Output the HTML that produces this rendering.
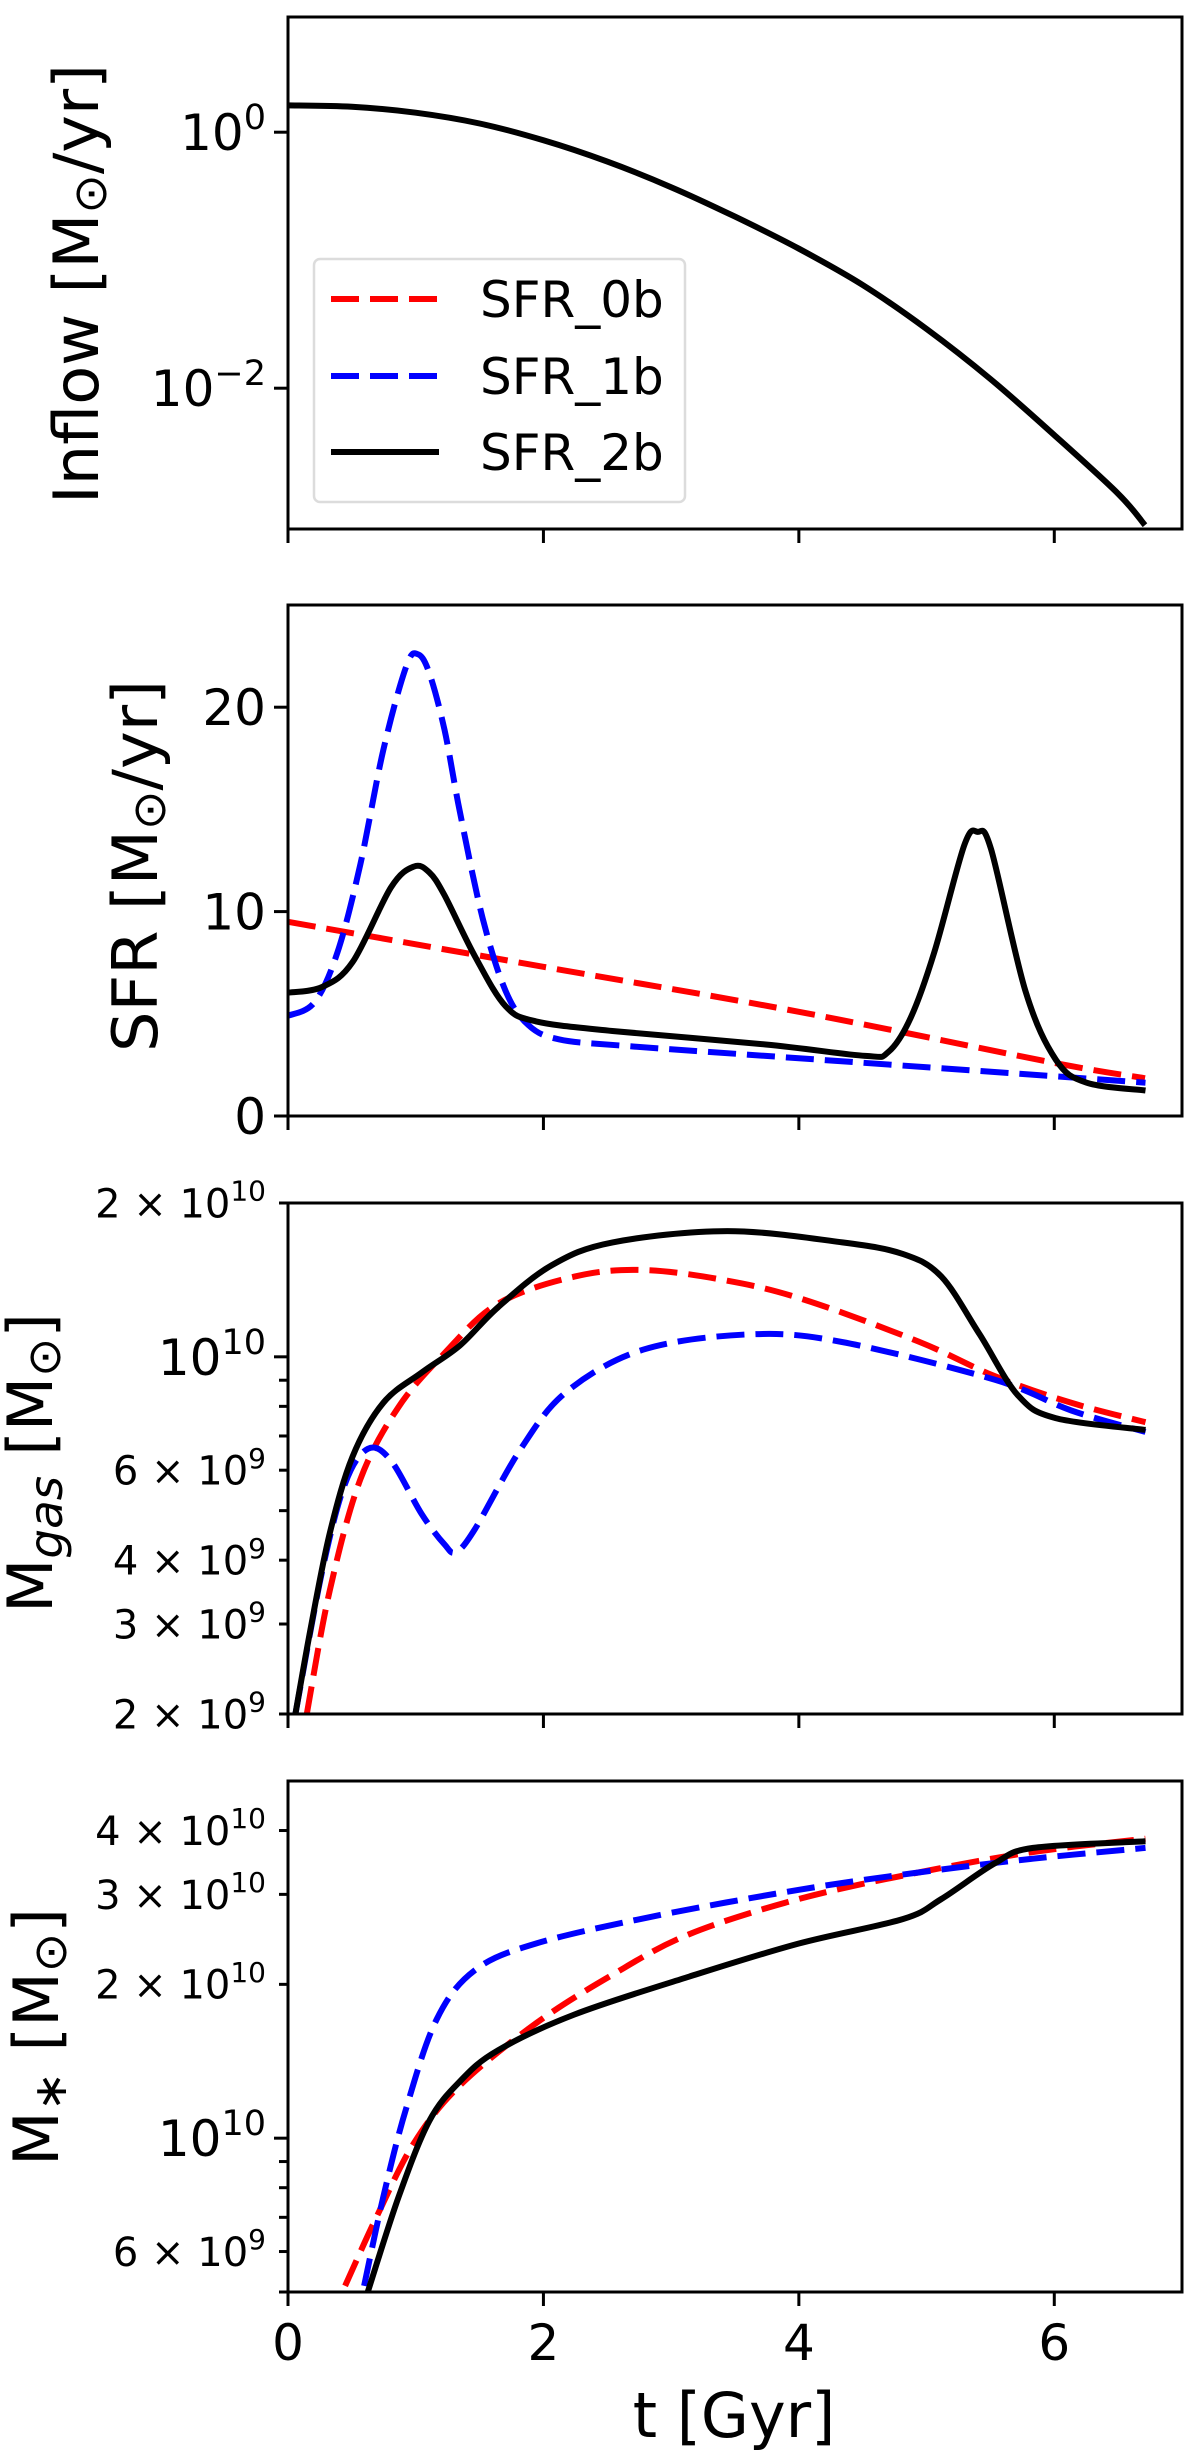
<!DOCTYPE html>
<html><head><meta charset="utf-8">
<style>
html,body{margin:0;padding:0;background:#fff;}
svg{display:block;}
text{font-family:"DejaVu Sans","Liberation Sans",sans-serif;fill:#000;}
</style></head>
<body>
<svg id="fig" width="1200" height="2450" viewBox="0 0 1200 2450" xmlns="http://www.w3.org/2000/svg"></svg>
<script>
// ---------- data ----------
const xTickValues = [0, 2, 4, 6];
const xTickLabels = ["0", "2", "4", "6"];

// Panel 1: inflow
const inflowT = [0, 0.5, 1, 1.5, 2, 2.5, 3, 3.5, 4, 4.5, 5, 5.5, 6, 6.5, 6.71];
const inflowVal = [1.62, 1.58, 1.42, 1.17, 0.865, 0.589, 0.372, 0.219, 0.123, 0.064, 0.029, 0.0118, 0.0043, 0.0015, 0.00085];

// Panel 2: SFR
const sfr2T = [0, 0.267, 0.506, 0.806, 0.985, 1.105, 1.225, 1.464, 1.704, 1.943, 2.54, 3.74, 4.52, 4.70, 4.876, 5.06, 5.295, 5.40, 5.505, 5.774, 6.013, 6.253, 6.714];
const sfr2Val = [6.03, 6.31, 7.53, 11.18, 12.2, 11.93, 10.8, 7.81, 5.37, 4.63, 4.16, 3.5, 2.94, 3.13, 4.81, 8.0, 13.24, 13.9, 13.05, 6.12, 2.75, 1.63, 1.25];
const sfr1T = [0, 0.207, 0.387, 0.566, 0.746, 0.926, 1.015, 1.105, 1.225, 1.345, 1.524, 1.704, 1.883, 2.12, 2.6, 3.74, 6.714];
const sfr1Val = [4.9, 5.56, 8.0, 12.3, 17.9, 22.0, 22.6, 21.7, 18.9, 14.9, 9.68, 6.12, 4.44, 3.75, 3.45, 2.94, 1.63];
const sfr0T = [0, 2, 4, 6, 6.71];
const sfr0Val = [9.5, 7.3, 5.1, 2.6, 1.85];

// Panel 3: log10 gas mass
const gas2T = [0.058, 0.177, 0.327, 0.506, 0.746, 1.045, 1.345, 1.644, 2.063, 2.542, 3.44, 4.34, 4.816, 5.116, 5.415, 5.714, 6.01, 6.714];
const gas2Log = [9.301, 9.468, 9.655, 9.805, 9.91, 9.969, 10.022, 10.097, 10.179, 10.224, 10.246, 10.224, 10.201, 10.157, 10.044, 9.925, 9.88, 9.857];
const gas0T = [0.147, 0.327, 0.566, 0.866, 1.225, 1.644, 2.243, 2.78, 3.44, 4.04, 4.936, 5.535, 6.133, 6.714];
const gas0Log = [9.301, 9.543, 9.76, 9.902, 10.007, 10.104, 10.157, 10.17, 10.149, 10.112, 10.03, 9.962, 9.91, 9.872];
const gas1T = [0.058, 0.267, 0.447, 0.626, 0.806, 1.045, 1.225, 1.315, 1.464, 1.823, 2.183, 2.78, 3.62, 4.337, 5.535, 6.133, 6.714];
const gas1Log = [9.301, 9.58, 9.752, 9.82, 9.797, 9.693, 9.633, 9.618, 9.663, 9.82, 9.932, 10.014, 10.044, 10.029, 9.955, 9.895, 9.853];

// Panel 4: log10 stellar mass
const star2T = [0.626, 0.866, 1.105, 1.345, 1.644, 2.243, 3.14, 4.0, 4.816, 5.116, 5.535, 5.834, 6.714];
const star2Log = [9.70, 9.885, 10.033, 10.111, 10.172, 10.242, 10.316, 10.381, 10.429, 10.468, 10.538, 10.568, 10.581];
const star0T = [0.447, 0.686, 0.985, 1.345, 1.943, 2.542, 3.14, 4.0, 4.936, 5.834, 6.714];
const star0Log = [9.711, 9.842, 9.99, 10.103, 10.225, 10.32, 10.399, 10.468, 10.52, 10.56, 10.586];
const star1T = [0.596, 0.746, 0.926, 1.165, 1.464, 1.943, 2.84, 4.0, 4.936, 5.834, 6.714];
const star1Log = [9.711, 9.885, 10.059, 10.233, 10.329, 10.381, 10.433, 10.486, 10.52, 10.547, 10.568];

const legendLabels = ["SFR_0b", "SFR_1b", "SFR_2b"];

// ---------- helpers ----------
const NS = "http://www.w3.org/2000/svg";
const svg = document.getElementById("fig");
const XL = 288, XR = 1182, XMIN = 0, XMAX = 7;
function xPix(t){ return XL + (t - XMIN) / (XMAX - XMIN) * (XR - XL); }
function mk(tag, attrs, parent){
  const e = document.createElementNS(NS, tag);
  for (const k in attrs) e.setAttribute(k, attrs[k]);
  (parent || svg).appendChild(e);
  return e;
}
function linScale(top, bot, vmin, vmax){ return v => bot - (v - vmin) / (vmax - vmin) * (bot - top); }
function logScale(top, bot, lmin, lmax){ return v => bot - (Math.log10(v) - lmin) / (lmax - lmin) * (bot - top); }
function logLScale(top, bot, lmin, lmax){ return l => bot - (l - lmin) / (lmax - lmin) * (bot - top); }

function drawSeries(g, ts, vs, yf, color, dashed, name, top, bot){
  const pts = [];
  for (let i = 0; i < ts.length; i++){
    let y = yf(vs[i]);
    y = Math.max(top - 2, Math.min(bot + 2, y));
    pts.push([xPix(ts[i]), y]);
  }
  let d = "M" + pts[0][0].toFixed(1) + "," + pts[0][1].toFixed(1);
  for (let i = 0; i < pts.length - 1; i++){
    const p0 = pts[Math.max(0, i - 1)], p1 = pts[i], p2 = pts[i + 1], p3 = pts[Math.min(pts.length - 1, i + 2)];
    const c1x = p1[0] + (p2[0] - p0[0]) / 6, c1y = p1[1] + (p2[1] - p0[1]) / 6;
    const c2x = p2[0] - (p3[0] - p1[0]) / 6, c2y = p2[1] - (p3[1] - p1[1]) / 6;
    d += "C" + c1x.toFixed(1) + "," + c1y.toFixed(1) + " " + c2x.toFixed(1) + "," + c2y.toFixed(1) + " " + p2[0].toFixed(1) + "," + p2[1].toFixed(1);
  }
  const p = mk("path", {d: d, fill: "none", stroke: color, "stroke-width": 6, "stroke-linejoin": "round"}, g);
  if (dashed) p.setAttribute("stroke-dasharray", "28 11");
  
  
  return p;
}

function frame(g, top, bot, name){
  const r = mk("rect", {x: XL, y: top, width: XR - XL, height: bot - top, fill: "none", stroke: "#000", "stroke-width": 3}, g);
  
  
  xTickValues.forEach(v => {
    const l = mk("line", {x1: xPix(v), x2: xPix(v), y1: bot, y2: bot + 14, stroke: "#000", "stroke-width": 3}, g);
    
    
  });
}
function yTick(g, y, major){
  const l = mk("line", {x1: XL - (major ? 14 : 9), x2: XL, y1: y, y2: y, stroke: "#000", "stroke-width": 3}, g);
  
  
}
function yLabel(g, y, base, sup, size){
  const t = mk("text", {x: XL - 22, y: y + size * 0.36, "text-anchor": "end", "font-size": size}, g);
  
  
  t.appendChild(document.createTextNode(base));
  if (sup){
    const s = mk("tspan", {"font-size": size * 0.7, dy: -size * 0.42}, t);
    s.textContent = sup;
  }
}
function axisTitle(g, xb, yc, len, parts, name){
  const t = mk("text", {x: 0, y: 0, "text-anchor": "middle", "font-size": 62, transform: "translate(" + xb + "," + yc + ") rotate(-90)", textLength: len, lengthAdjust: "spacingAndGlyphs"}, g);
  
  
  parts.forEach(p => {
    const s = mk("tspan", p.attrs || {}, t);
    s.textContent = p.text;
  });
}

// ---------- Panel 1: Inflow ----------
(function(){
  const top = 17, bot = 529;
  const g = mk("g", {});  
  const yf = logScale(top, bot, -3.10, 0.90);
  drawSeries(g, inflowT, inflowVal, yf, "#000", false, "inflow-line", top, bot);
  frame(g, top, bot, "inflow-axes");
  yTick(g, yf(1), true); yLabel(g, yf(1), "10", "0", 50);
  yTick(g, yf(0.01), true); yLabel(g, yf(0.01), "10", "\u22122", 50);
  axisTitle(g, 98, 284, 440, [{text: "Inflow [M"}, {text: "\u2299", attrs: {"font-size": 46, dy: 8}}, {text: "/yr]", attrs: {dy: -8}}], "inflow-y-axis-title");
  // legend
  const lg = mk("g", {}, g);  
  const box = mk("rect", {x: 314, y: 259, width: 371, height: 243, rx: 6, fill: "#fff", "fill-opacity": 0.8, stroke: "#dcdcdc", "stroke-width": 2.5}, lg);
   
  const cols = ["#ff0000", "#0000ff", "#000"], ys = [299, 376, 452];
  for (let i = 0; i < 3; i++){
    const e = mk("g", {}, lg);  
    const ln = mk("line", {x1: 331, x2: 439, y1: ys[i], y2: ys[i], stroke: cols[i], "stroke-width": 6}, e);
    if (i < 2) ln.setAttribute("stroke-dasharray", "28 11");
     
    const tx = mk("text", {x: 480, y: ys[i] + 18, "font-size": 50}, e);
    tx.textContent = legendLabels[i];
     
  }
})();

// ---------- Panel 2: SFR ----------
(function(){
  const top = 605, bot = 1116;
  const g = mk("g", {});  
  const yf = linScale(top, bot, 0, 25);
  drawSeries(g, sfr0T, sfr0Val, yf, "#ff0000", true, "sfr-0b-line", top, bot);
  drawSeries(g, sfr1T, sfr1Val, yf, "#0000ff", true, "sfr-1b-line", top, bot);
  drawSeries(g, sfr2T, sfr2Val, yf, "#000", false, "sfr-2b-line", top, bot);
  frame(g, top, bot, "sfr-axes");
  [0, 10, 20].forEach(v => { yTick(g, yf(v), true); yLabel(g, yf(v), String(v), null, 50); });
  axisTitle(g, 157, 866, 372, [{text: "SFR [M"}, {text: "\u2299", attrs: {"font-size": 46, dy: 8}}, {text: "/yr]", attrs: {dy: -8}}], "sfr-y-axis-title");
})();

// ---------- Panel 3: Mgas ----------
(function(){
  const top = 1203, bot = 1714;
  const g = mk("g", {});  
  const lmin = Math.log10(2e9), lmax = Math.log10(2e10);
  const yl = logLScale(top, bot, lmin, lmax), yf = logScale(top, bot, lmin, lmax);
  drawSeries(g, gas0T, gas0Log, yl, "#ff0000", true, "gas-0b-line", top, bot);
  drawSeries(g, gas1T, gas1Log, yl, "#0000ff", true, "gas-1b-line", top, bot);
  drawSeries(g, gas2T, gas2Log, yl, "#000", false, "gas-2b-line", top, bot);
  frame(g, top, bot, "gas-mass-axes");
  [2e9, 3e9, 4e9, 5e9, 6e9, 7e9, 8e9, 9e9, 2e10].forEach(v => yTick(g, yf(v), false));
  yTick(g, yf(1e10), true);
  yLabel(g, yf(1e10), "10", "10", 50);
  yLabel(g, yf(2e10), "2 \u00d7 10", "10", 40);
  yLabel(g, yf(6e9), "6 \u00d7 10", "9", 40);
  yLabel(g, yf(4e9), "4 \u00d7 10", "9", 40);
  yLabel(g, yf(3e9), "3 \u00d7 10", "9", 40);
  yLabel(g, yf(2e9), "2 \u00d7 10", "9", 40);
  axisTitle(g, 52, 1463, 300, [{text: "M"}, {text: "gas", attrs: {"font-size": 46, "font-style": "italic", dy: 10}}, {text: " [M", attrs: {dy: -10}}, {text: "\u2299", attrs: {"font-size": 46, dy: 8}}, {text: "]", attrs: {dy: -8}}], "gas-mass-y-axis-title");
})();

// ---------- Panel 4: Mstar ----------
(function(){
  const top = 1781, bot = 2292;
  const g = mk("g", {});  
  const lmin = Math.log10(5e9), lmax = Math.log10(5e10);
  const yl = logLScale(top, bot, lmin, lmax), yf = logScale(top, bot, lmin, lmax);
  drawSeries(g, star0T, star0Log, yl, "#ff0000", true, "stellar-0b-line", top, bot);
  drawSeries(g, star1T, star1Log, yl, "#0000ff", true, "stellar-1b-line", top, bot);
  drawSeries(g, star2T, star2Log, yl, "#000", false, "stellar-2b-line", top, bot);
  frame(g, top, bot, "stellar-mass-axes");
  [5e9, 6e9, 7e9, 8e9, 9e9, 2e10, 3e10, 4e10].forEach(v => yTick(g, yf(v), false));
  yTick(g, yf(1e10), true);
  yLabel(g, yf(1e10), "10", "10", 50);
  yLabel(g, yf(6e9), "6 \u00d7 10", "9", 40);
  yLabel(g, yf(2e10), "2 \u00d7 10", "10", 40);
  yLabel(g, yf(3e10), "3 \u00d7 10", "10", 40);
  yLabel(g, yf(4e10), "4 \u00d7 10", "10", 40);
  axisTitle(g, 58, 2037, 258, [{text: "M"}, {text: "\u2217", attrs: {"font-size": 46, dy: 8}}, {text: " [M", attrs: {dy: -8}}, {text: "\u2299", attrs: {"font-size": 46, dy: 8}}, {text: "]", attrs: {dy: -8}}], "stellar-mass-y-axis-title");
  xTickValues.forEach((v, i) => {
    const t = mk("text", {x: xPix(v), y: 2360, "text-anchor": "middle", "font-size": 50}, g);
    t.textContent = xTickLabels[i];
    
    
  });
  const xt = mk("text", {x: 734, y: 2437, "text-anchor": "middle", "font-size": 62}, g);
  xt.textContent = "t [Gyr]";
  
  
})();
</script>
</body></html>
